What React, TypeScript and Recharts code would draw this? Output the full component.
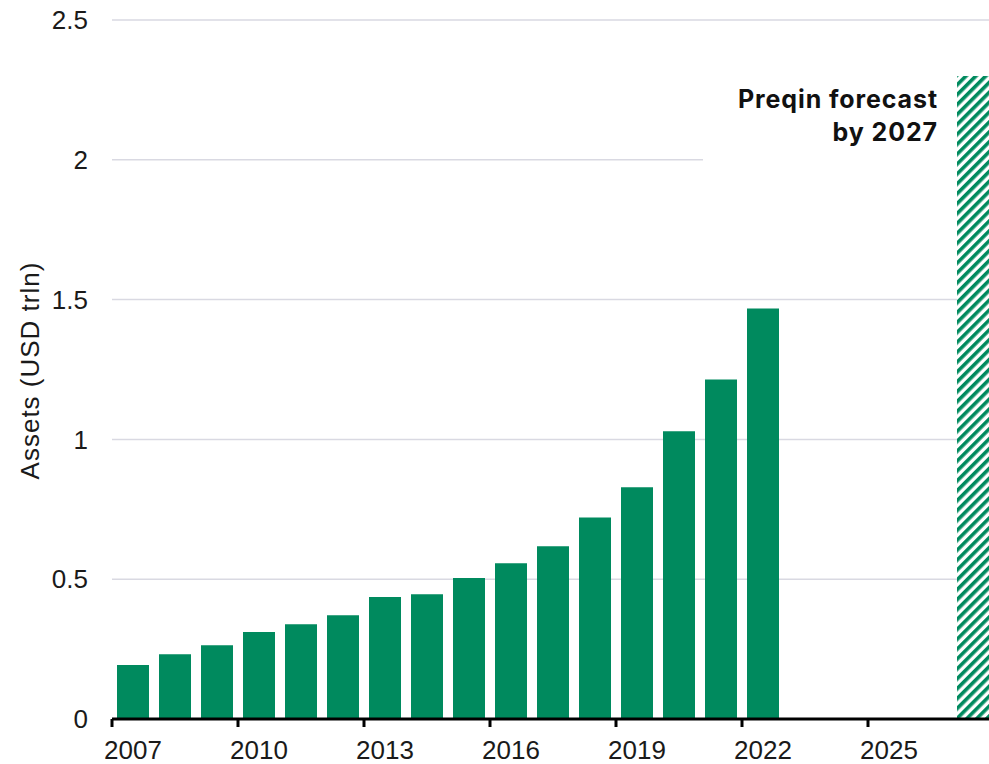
import { BarChart, Bar, XAxis, YAxis, CartesianGrid, LabelList } from "recharts";

const years = [
  "2007", "2008", "2009", "2010", "2011", "2012", "2013", "2014", "2015", "2016", "2017",
  "2018", "2019", "2020", "2021", "2022", "2023", "2024", "2025", "2026", "2027",
];

// USD trillions
const assets = [
  0.193, 0.232, 0.264, 0.311, 0.339, 0.371, 0.436, 0.446, 0.504, 0.557, 0.618,
  0.721, 0.829, 1.029, 1.214, 1.468, null, null, null, null, null,
];

const forecast = [
  null, null, null, null, null, null, null, null, null, null, null,
  null, null, null, null, null, null, null, null, null, 2.3,
];

const yTicks = [0, 0.5, 1, 1.5, 2, 2.5];

const data = years.map((year, i) => ({
  year,
  assets: assets[i],
  forecast: forecast[i],
}));

const GREEN = "#008a5e";
const TEXT = "#1a1a1a";
const AXIS_FONT = "'Liberation Sans', Arial, sans-serif";

const YearTick = ({ x, y, payload }: any) => {
  const edge = x - (payload.offset ?? 0);
  return (
    <g>
      <line x1={edge} x2={edge} y1={y} y2={y + 8} stroke="#000" strokeWidth={3} />
      <text
        x={x}
        y={y + 40}
        textAnchor="middle"
        fill={TEXT}
        fontSize={26}
        fontFamily={AXIS_FONT}
      >
        {payload.value}
      </text>
    </g>
  );
};

// the 2.0 line stops short of the forecast note
const gridLine = (p: any) => {
  const x2 = p.index === 4 ? p.x1 + ((p.x2 - p.x1) * 14) / 21 + 3 : p.x2;
  return (
    <line
      key={p.key}
      x1={p.x1}
      x2={x2}
      y1={p.y1}
      y2={p.y2}
      stroke="#d9d9e2"
      strokeWidth={1.5}
    />
  );
};

const ForecastNote = ({ x, y, value }: any) => {
  if (value == null) return null;
  return (
    <text
      textAnchor="end"
      fill="#111"
      fontSize={25}
      fontWeight={700}
      letterSpacing={0.9}
      fontFamily="Inter, 'Open Sans', sans-serif"
    >
      <tspan x={x - 19} y={y + 32}>Preqin forecast</tspan>
      <tspan x={x - 19} y={y + 65}>by 2027</tspan>
    </text>
  );
};

const AxisTitle = ({ viewBox }: any) => {
  const cx = viewBox.x + 30;
  const cy = viewBox.y + viewBox.height / 2 + 1;
  return (
    <text
      x={cx}
      y={cy}
      transform={`rotate(-90 ${cx} ${cy})`}
      textAnchor="middle"
      dominantBaseline="central"
      fill={TEXT}
      fontSize={26}
      letterSpacing={1}
      fontFamily={AXIS_FONT}
    >
      Assets (USD trln)
    </text>
  );
};

export default function App() {
  return (
    <div
      style={{
        position: "absolute",
        left: 0,
        top: 0,
        width: 989,
        height: 764,
        overflow: "hidden",
        background: "#fff",
      }}
    >
      <BarChart
        width={1000}
        height={764}
        data={data}
        margin={{ top: 20, right: 6, bottom: 5, left: 0 }}
      >
        <defs>
          <pattern
            id="hatch"
            width={7}
            height={7}
            patternUnits="userSpaceOnUse"
            patternTransform="rotate(45)"
          >
            <rect width={7} height={7} fill="#fff" />
            <rect width={3.6} height={7} fill={GREEN} />
          </pattern>
        </defs>

        <CartesianGrid vertical={false} horizontal={gridLine} />

        <YAxis
          width={112}
          domain={[0, 2.5]}
          ticks={yTicks}
          axisLine={false}
          tickLine={false}
          tickSize={0}
          tickMargin={24}
          tick={{ fill: TEXT, fontSize: 26, fontFamily: AXIS_FONT }}
          label={<AxisTitle />}
        />

        <XAxis
          dataKey="year"
          height={40}
          interval={2}
          tickSize={0}
          tickMargin={0}
          tickLine={false}
          axisLine={{ stroke: "#000", strokeWidth: 3 }}
          tick={<YearTick />}
        />

        <Bar dataKey="assets" stackId="a" fill={GREEN} barSize={32} isAnimationActive={false} />
        <Bar
          dataKey="forecast"
          stackId="a"
          fill="url(#hatch)"
          barSize={32}
          isAnimationActive={false}
        >
          <LabelList dataKey="forecast" content={<ForecastNote />} />
        </Bar>
      </BarChart>
    </div>
  );
}
